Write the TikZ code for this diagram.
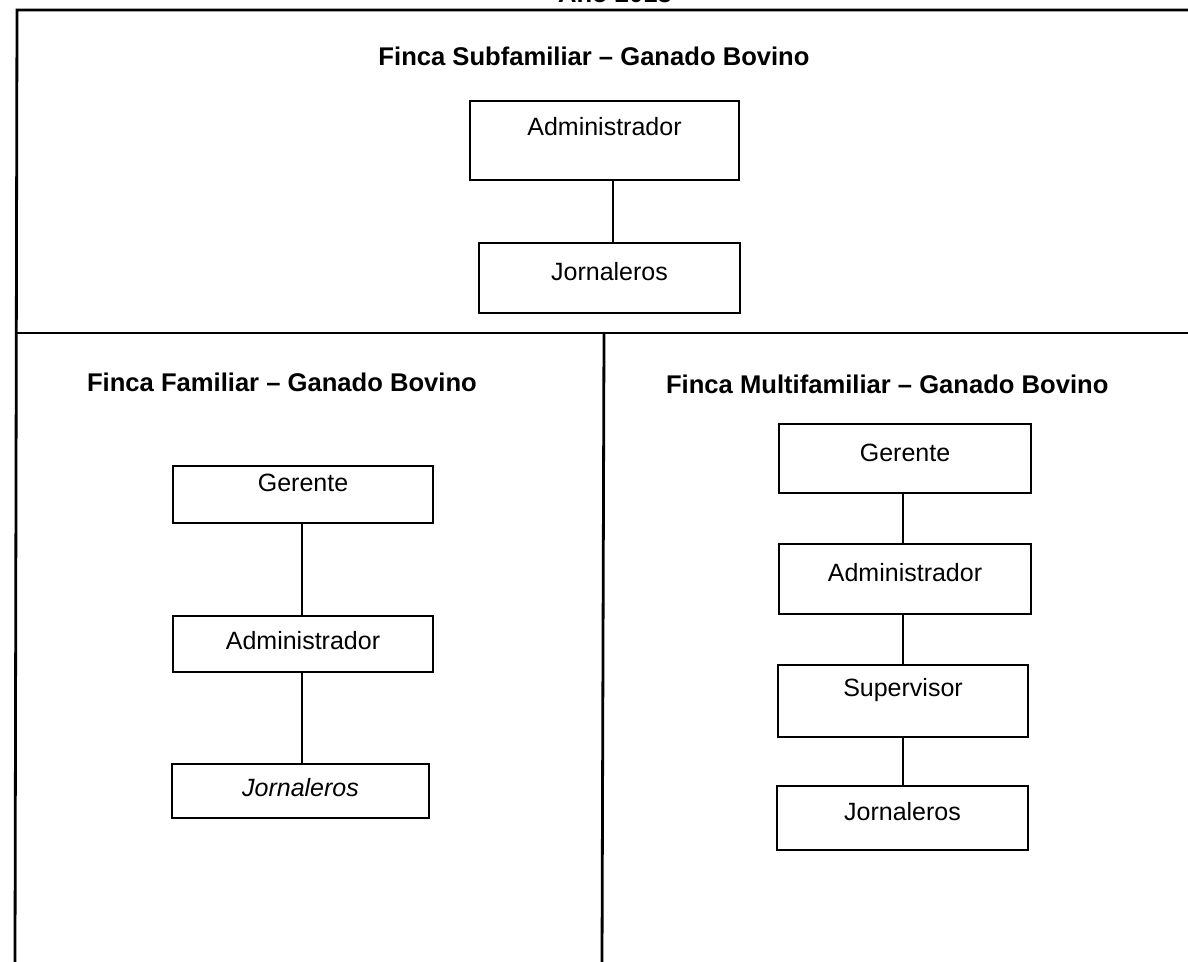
\documentclass[tikz,border=0pt]{standalone}
\usepackage{fontspec}
\setmainfont{Liberation Sans}
\usetikzlibrary{calc}
\begin{document}
\begin{tikzpicture}[x=0.5pt,y=-0.5pt,
  frame/.style={line width=1.4pt},
  box/.style={draw, line width=1pt, inner sep=0pt},
  lbl/.style={font=\fontsize{12.5}{14}\selectfont},
  ttl/.style={font=\bfseries\fontsize{12.8}{15}\selectfont},
  link/.style={line width=0.9pt}]
\useasboundingbox (0,0) rectangle (1188,962);

% outer frame and panel dividers
\coordinate (tl) at (17,10);
\coordinate (tr) at (1188,10);
\coordinate (bl) at (15,962);
\coordinate (ml) at (16,333);
\coordinate (mr) at (1188,333);
\coordinate (dt) at (604,333);
\coordinate (db) at (602,962);
\draw[frame] (bl) -- (tl) -- (tr);
\draw[frame] (ml) -- (mr);
\draw[frame] (dt) -- (db);

% heading above the frame
\node[ttl, anchor=base] (year) at (615,3) {Año 2013};

% panel titles
\node[ttl] (t1) at (594,56) {Finca Subfamiliar -- Ganado Bovino};
\node[ttl, anchor=west] (t2) at (80,382) {Finca Familiar -- Ganado Bovino};
\node[ttl, anchor=west] (t3) at (659,384) {Finca Multifamiliar -- Ganado Bovino};

% subfamiliar chart
\node[box, minimum width=134.5pt, minimum height=39.5pt,
  label={[lbl,yshift=6.75pt]center:Administrador}] (sadm) at (604.5,140.5) {};
\node[box, minimum width=130.5pt, minimum height=35pt,
  label={[lbl,yshift=3pt]center:Jornaleros}] (sjor) at (609.5,278) {};
\coordinate (cs) at (613,0);
\draw[link] (sadm.south -| cs) -- (sjor.north -| cs);

% familiar chart
\node[box, minimum width=130pt, minimum height=28.5pt,
  label={[lbl,yshift=5.5pt]center:Gerente}] (fger) at (303,494) {};
\node[box, minimum width=130pt, minimum height=28pt,
  label={[lbl,yshift=1.5pt]center:Administrador}] (fadm) at (303,644) {};
\node[box, minimum width=128.5pt, minimum height=27pt,
  label={[lbl,yshift=1.5pt,font=\itshape\fontsize{12.5}{14}\selectfont]center:Jornaleros}] (fjor) at (300.5,791) {};
\coordinate (cf) at (302,0);
\draw[link] (fger.south -| cf) -- (fadm.north -| cf);
\draw[link] (fadm.south -| cf) -- (fjor.north -| cf);

% multifamiliar chart
\node[box, minimum width=126pt, minimum height=34.5pt,
  label={[lbl,yshift=2.75pt]center:Gerente}] (mger) at (905,458.5) {};
\node[box, minimum width=126pt, minimum height=35pt,
  label={[lbl,yshift=3pt]center:Administrador}] (madm) at (905,579) {};
\node[box, minimum width=125pt, minimum height=36pt,
  label={[lbl,yshift=5.5pt]center:Supervisor}] (msup) at (903,701) {};
\node[box, minimum width=125.5pt, minimum height=32pt,
  label={[lbl,yshift=3pt]center:Jornaleros}] (mjor) at (902.5,818) {};
\coordinate (cm) at (903,0);
\draw[link] (mger.south -| cm) -- (madm.north -| cm);
\draw[link] (madm.south -| cm) -- (msup.north -| cm);
\draw[link] (msup.south -| cm) -- (mjor.north -| cm);
\end{tikzpicture}
\end{document}
